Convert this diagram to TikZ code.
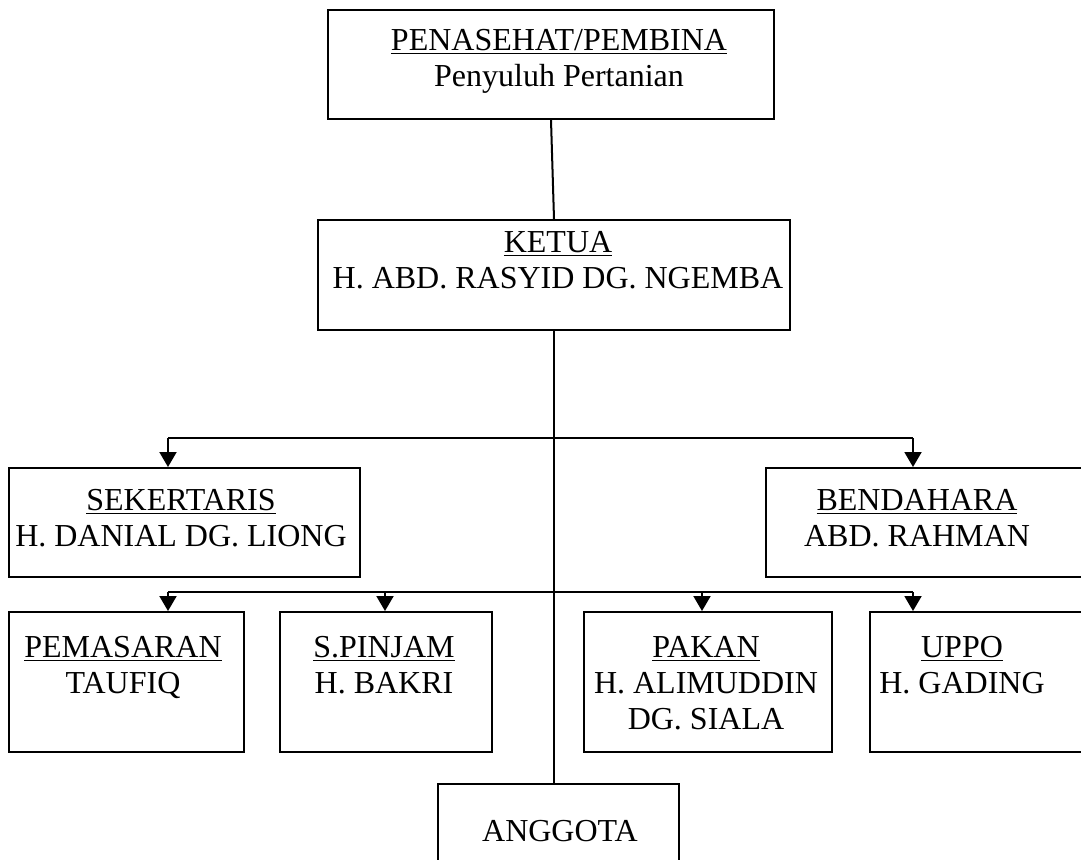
\documentclass[tikz,border=0pt]{standalone}
\usepackage{fontspec}
\setmainfont{Liberation Serif}
\usetikzlibrary{arrows.meta,positioning}

\begin{document}
\begin{tikzpicture}[
  x=0.5pt, y=-0.5pt,
  box/.style={draw, rectangle, line width=1pt, inner sep=0pt},
  txt/.style={align=center, anchor=north, inner sep=0pt,
              font=\fontsize{16}{18}\selectfont},
  line/.style={draw, line width=1pt},
  arr/.style={draw, line width=1pt, -{Triangle[length=7.5pt, width=8.5pt]}}
]
\useasboundingbox (0,0) rectangle (1081,859);
\clip (0,0) rectangle (1081,859);

% Boxes
\node[box, minimum width=223pt, minimum height=54.5pt] (pen) at (551,64.5) {};
\node[box, minimum width=236pt, minimum height=55pt] (ketua) at (554,275) {};
\node[box, minimum width=175.5pt, minimum height=54.5pt] (sek) at (184.5,522.5) {};
\node[box, minimum width=172pt, minimum height=54.5pt] (bend) at (938,522.5) {};
\node[box, minimum width=117.5pt, minimum height=70pt] (pem) at (126.5,682) {};
\node[box, minimum width=106pt, minimum height=70pt] (spin) at (386,682) {};
\node[box, minimum width=124pt, minimum height=70pt] (pakan) at (708,682) {};
\node[box, minimum width=120pt, minimum height=70pt] (uppo) at (990,682) {};
\node[box, minimum width=120.5pt, minimum height=58pt] (ang) at (558.5,842) {};

% Texts
\node[txt] (pen-t) at (559,29) {\underline{PENASEHAT/PEMBINA}\\Penyuluh Pertanian};
\node[txt] (ketua-t) at (558,231) {\underline{KETUA}\\H. ABD. RASYID DG. NGEMBA};
\node[txt] (sek-t) at (181,489) {\underline{SEKERTARIS}\\H. DANIAL DG. LIONG};
\node[txt] (bend-t) at (917,489) {\underline{BENDAHARA}\\ABD. RAHMAN};
\node[txt] (pem-t) at (123,636) {\underline{PEMASARAN}\\TAUFIQ};
\node[txt] (spin-t) at (384,636) {\underline{S.PINJAM}\\H. BAKRI};
\node[txt] (pakan-t) at (706,636) {\underline{PAKAN}\\H. ALIMUDDIN\\DG. SIALA};
\node[txt] (uppo-t) at (962,636) {\underline{UPPO}\\H. GADING};
\node[txt] (ang-t) at (560,820) {ANGGOTA};

% Connections
\coordinate (r1l) at (168,438);
\coordinate (r1r) at (913,438);
\coordinate (r2l) at (168,592);
\coordinate (r2r) at (913,592);

\draw[line] (pen.south) -- (ketua.north);
\draw[line] (ketua.south) -- (ketua.south |- ang.north);

\draw[line] (r1l) -- (r1r);
\draw[arr] (r1l) -- (r1l |- sek.north);
\draw[arr] (r1r) -- (r1r |- bend.north);

\draw[line] (r2l) -- (r2r);
\foreach \b/\x in {pem/168, spin/385, pakan/702, uppo/913}{
  \coordinate (\b-in) at (\x,592);
  \draw[arr] (\b-in) -- (\b-in |- \b.north);
}

\end{tikzpicture}
\end{document}
